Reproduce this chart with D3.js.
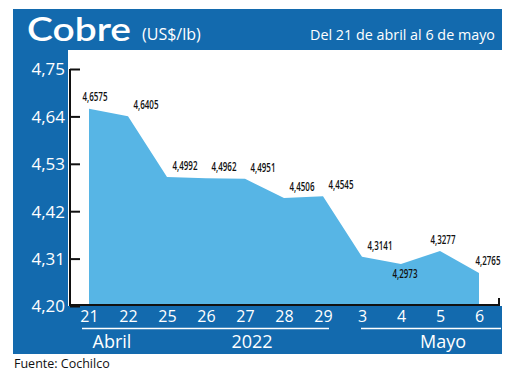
<!DOCTYPE html>
<html>
<head>
<meta charset="utf-8">
<script src="https://cdn.jsdelivr.net/npm/d3@7"></script>
<style>
  html, body { margin: 0; padding: 0; background: #fff; }
  svg { display: block; }
</style>
</head>
<body>
<div id="chart"></div>
<script>
// Cobre (US$/lb), 21 abril - 6 mayo 2022
const days = ['21', '22', '25', '26', '27', '28', '29', '3', '4', '5', '6'];
const prices = [4.6575, 4.6405, 4.4992, 4.4962, 4.4951, 4.4506, 4.4545, 4.3141, 4.2973, 4.3277, 4.2765];
const yTicks = [4.20, 4.31, 4.42, 4.53, 4.64, 4.75];
const groups = ['Abril', '2022', 'Mayo'];

const W = 520, H = 375;
const BLUE = '#136AAE', AREA = '#57B5E5';
const fmt = d3.formatLocale({ decimal: ',', thousands: '.', grouping: [3], currency: ['', ''] });
const tickFmt = fmt.format('.2f');
const valFmt = fmt.format('.4f');

const svg = d3.select('#chart').append('svg').attr('width', W).attr('height', H);

// frame: header, left column, bottom band
const frame = { left: 13, right: 502, top: 9, head: 50, plotLeft: 68, base: 306, bottom: 354 };
svg.append('rect').attr('x', frame.left).attr('y', frame.top)
  .attr('width', frame.right - frame.left).attr('height', frame.head - frame.top).attr('fill', BLUE);
svg.append('rect').attr('x', frame.left).attr('y', frame.head)
  .attr('width', frame.plotLeft - frame.left).attr('height', frame.base - frame.head).attr('fill', BLUE);
svg.append('rect').attr('x', frame.left).attr('y', frame.base)
  .attr('width', frame.right - frame.left).attr('height', frame.bottom - frame.base).attr('fill', BLUE);

const x = d3.scalePoint().domain(days).range([89, 479]);
const y = d3.scaleLinear().domain([4.20, 4.75]).range([frame.base, 69]);

// area
const data = days.map((d, i) => ({ d, v: prices[i] }));
const area = d3.area().x(p => x(p.d)).y0(y(4.20)).y1(p => y(p.v));
svg.append('path').datum(data).attr('d', area).attr('fill', AREA);

// y axis
const gy = svg.append('g').attr('transform', 'translate(70,0)')
  .call(d3.axisLeft(y).tickValues(yTicks).tickFormat(tickFmt).tickSize(-10).tickPadding(5));
gy.select('.domain').attr('stroke', '#111').attr('stroke-width', 2).attr('d', `M0,${y(4.75)}V${frame.base}`);
gy.selectAll('.tick line').attr('stroke', '#111').attr('stroke-width', 2);
gy.selectAll('.tick text').attr('fill', '#fff')
  .style('font-family', "'Open Sans', sans-serif").style('font-size', '17px').attr('dy', '0.35em');

// baseline
svg.append('path').attr('d', `M70,${frame.base - 1}H499V${frame.base - 8}`)
  .attr('fill', 'none').attr('stroke', '#111').attr('stroke-width', 2);

// x axis labels
const gx = svg.append('g').attr('transform', `translate(0,${frame.base})`)
  .call(d3.axisBottom(x).tickSize(0).tickPadding(5));
gx.select('.domain').remove();
gx.selectAll('.tick text').attr('fill', '#fff')
  .style('font-family', "'Open Sans', sans-serif").style('font-size', '16px');

// month group lines and labels
const groupLines = [{ from: '21', to: '29', x0: -7, x1: 6 }, { from: '3', to: '6', x0: -1, x1: 22 }];
groupLines.forEach(g => {
  svg.append('line').attr('x1', x(g.from) + g.x0).attr('x2', x(g.to) + g.x1)
    .attr('y1', 328.5).attr('y2', 328.5).attr('stroke', '#fff').attr('stroke-width', 1.5);
});
const groupPos = { Abril: x('22') - 16, '2022': x('27') + 7, Mayo: x('5') + 3 };
groups.forEach(g => {
  svg.append('text').attr('x', groupPos[g]).attr('y', 348).attr('text-anchor', 'middle')
    .attr('fill', '#fff').style('font-family', "'Open Sans', sans-serif").style('font-size', '18px')
    .text(g);
});

// value labels
const nudge = { 0: [6, -8], 8: [4, 14], 9: [3, -7], 10: [9, -8] };
svg.append('g').selectAll('text').data(data).join('text')
  .attr('x', (p, i) => x(p.d) + (nudge[i] ? nudge[i][0] : 18))
  .attr('y', (p, i) => y(p.v) + (nudge[i] ? nudge[i][1] : -7))
  .attr('text-anchor', 'middle').attr('fill', '#111')
  .style('font-family', "'Open Sans', sans-serif")
  .style('font-size', '13px').style('font-weight', 600)
  .attr('textLength', 25).attr('lengthAdjust', 'spacingAndGlyphs')
  .text(p => valFmt(p.v));

// header texts
svg.append('text').attr('x', 27).attr('y', 41).attr('fill', '#fff')
  .style('font-family', "'Lato', 'Open Sans', sans-serif").style('font-size', '33px').style('font-weight', 600)
  .attr('textLength', 104).attr('lengthAdjust', 'spacingAndGlyphs').text('Cobre');
svg.append('text').attr('x', 142).attr('y', 40).attr('fill', '#fff')
  .style('font-family', "'Open Sans', sans-serif").style('font-size', '16px').text('(US$/lb)');
svg.append('text').attr('x', 495).attr('y', 40).attr('text-anchor', 'end').attr('fill', '#fff')
  .style('font-family', "'Open Sans', sans-serif").style('font-size', '15px')
  .attr('textLength', 185).attr('lengthAdjust', 'spacingAndGlyphs').text('Del 21 de abril al 6 de mayo');

// source
svg.append('text').attr('x', 14).attr('y', 368).attr('fill', '#111')
  .style('font-family', "'Open Sans', sans-serif").style('font-size', '12.5px').text('Fuente: Cochilco');
</script>
</body>
</html>
